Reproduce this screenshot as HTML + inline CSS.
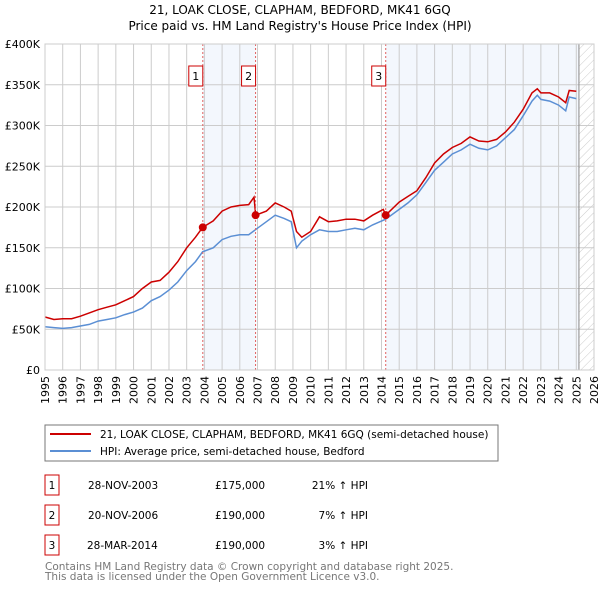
<!DOCTYPE html>
<html><head><meta charset="utf-8">
<style>
body{margin:0;background:#fff;font-family:"DejaVu Sans","Liberation Sans",sans-serif;}
svg text{font-family:"DejaVu Sans","Liberation Sans",sans-serif;}
</style></head>
<body>
<svg width="600" height="590" xmlns="http://www.w3.org/2000/svg">
<defs>
<pattern id="hatch" width="6" height="6" patternUnits="userSpaceOnUse" patternTransform="rotate(45)">
<line x1="0" y1="0" x2="0" y2="6" stroke="#ccc" stroke-width="1"/>
</pattern>
</defs>
<text x="300" y="14" font-size="12" text-anchor="middle">21, LOAK CLOSE, CLAPHAM, BEDFORD, MK41 6GQ</text>
<text x="300" y="30" font-size="12" text-anchor="middle">Price paid vs. HM Land Registry's House Price Index (HPI)</text>
<g id="plot"></g>
<rect x="45" y="425" width="453" height="36" fill="none" stroke="#777"/>
<line x1="50" y1="434" x2="91" y2="434" stroke="#cc0000" stroke-width="2"/>
<text x="100" y="438" font-size="10.5">21, LOAK CLOSE, CLAPHAM, BEDFORD, MK41 6GQ (semi-detached house)</text>
<line x1="50" y1="451" x2="91" y2="451" stroke="#5b8fd4" stroke-width="2"/>
<text x="100" y="455" font-size="10.5">HPI: Average price, semi-detached house, Bedford</text>
<g font-size="10.5">
<rect x="45" y="475" width="14" height="20" fill="none" stroke="#cc0000"/><text x="52" y="489" text-anchor="middle">1</text>
<text x="88" y="489">28-NOV-2003</text><text x="215" y="489">£175,000</text><text x="368" y="489" text-anchor="end">21% ↑ HPI</text>
<rect x="45" y="505" width="14" height="20" fill="none" stroke="#cc0000"/><text x="52" y="519" text-anchor="middle">2</text>
<text x="88" y="519">20-NOV-2006</text><text x="215" y="519">£190,000</text><text x="368" y="519" text-anchor="end">7% ↑ HPI</text>
<rect x="45" y="535" width="14" height="20" fill="none" stroke="#cc0000"/><text x="52" y="549" text-anchor="middle">3</text>
<text x="87" y="549">28-MAR-2014</text><text x="215" y="549">£190,000</text><text x="368" y="549" text-anchor="end">3% ↑ HPI</text>
</g>
<text x="45" y="570" font-size="10.5" fill="#777">Contains HM Land Registry data © Crown copyright and database right 2025.</text>
<text x="45" y="580" font-size="10.5" fill="#777">This data is licensed under the Open Government Licence v3.0.</text>
</svg>
<script>
const hpiYears=[1995,1995.5,1996,1996.5,1997,1997.5,1998,1998.5,1999,1999.5,2000,2000.5,2001,2001.5,2002,2002.5,2003,2003.5,2003.9,2004.5,2005,2005.5,2006,2006.5,2007,2007.5,2008,2008.5,2008.9,2009.2,2009.5,2010,2010.5,2011,2011.5,2012,2012.5,2013,2013.5,2014.24,2015,2015.5,2016,2016.5,2017,2017.5,2018,2018.5,2019,2019.5,2020,2020.5,2021,2021.5,2022,2022.5,2022.8,2023,2023.5,2024,2024.4,2024.6,2025];
const hpiValues=[53,52,51,52,54,56,60,62,64,68,71,76,85,90,98,108,122,133,145,150,160,164,166,166,174,182,190,186,182,150,158,166,172,170,170,172,174,172,178,185,197,205,215,230,245,255,265,270,277,272,270,275,285,295,312,330,337,332,330,325,318,335,333];
const redYears=[1995,1995.5,1996,1996.5,1997,1997.5,1998,1998.5,1999,1999.5,2000,2000.5,2001,2001.5,2002,2002.5,2003,2003.5,2003.9,2004.5,2005,2005.5,2006,2006.5,2006.8,2006.9,2007.5,2008,2008.5,2008.9,2009.2,2009.5,2010,2010.5,2011,2011.5,2012,2012.5,2013,2013.5,2014.1,2014.24,2015,2015.5,2016,2016.5,2017,2017.5,2018,2018.5,2019,2019.5,2020,2020.5,2021,2021.5,2022,2022.5,2022.8,2023,2023.5,2024,2024.4,2024.6,2025];
const redValues=[65,62,63,63,66,70,74,77,80,85,90,100,108,110,120,133,150,163,175,183,195,200,202,203,212,190,195,205,200,195,170,163,170,188,182,183,185,185,183,190,197,190,206,213,220,236,254,265,273,278,286,281,280,283,292,304,320,340,345,340,340,335,328,343,342];
const saleYears=[2003.91,2006.89,2014.24];
const saleValues=[175,190,190];
const saleLabels=["1","2","3"];
const yTicks=[0,50,100,150,200,250,300,350,400];
const yTickLabels=["£0","£50K","£100K","£150K","£200K","£250K","£300K","£350K","£400K"];
const xTicks=[1995,1996,1997,1998,1999,2000,2001,2002,2003,2004,2005,2006,2007,2008,2009,2010,2011,2012,2013,2014,2015,2016,2017,2018,2019,2020,2021,2022,2023,2024,2025,2026];
const dataEnd=2025.15;

const X0=45,X1=594,Y0=370,Y1=44;
const xs=y=>X0+(y-1995)/(2026-1995)*(X1-X0);
const ys=v=>Y0-v/400*(Y0-Y1);
const NS="http://www.w3.org/2000/svg";
const g=document.getElementById('plot');
function mk(t,a){const e=document.createElementNS(NS,t);for(const k in a)e.setAttribute(k,a[k]);g.appendChild(e);return e;}

let e=mk('rect',{x:xs(saleYears[0]),y:Y1,width:xs(saleYears[1])-xs(saleYears[0]),height:Y0-Y1,fill:'#eef3fc',opacity:0.7});


e=mk('rect',{x:xs(saleYears[2]),y:Y1,width:xs(dataEnd)-xs(saleYears[2]),height:Y0-Y1,fill:'#eef3fc',opacity:0.7});


e=mk('rect',{x:xs(dataEnd),y:Y1,width:X1-xs(dataEnd),height:Y0-Y1,fill:'url(#hatch)'});



yTicks.forEach((v,i)=>{
 let l=mk('line',{x1:X0,x2:X1,y1:ys(v),y2:ys(v),stroke:'#ccc'});
 
 
 let t=mk('text',{x:40,y:ys(v)+4,'font-size':11,'text-anchor':'end'});t.textContent=yTickLabels[i];
 
 
});
xTicks.forEach(yr=>{
 let l=mk('line',{x1:xs(yr),x2:xs(yr),y1:Y1,y2:Y0,stroke:'#ccc'});
 
 
 let t=mk('text',{x:0,y:0,'font-size':11,'text-anchor':'end',transform:`translate(${xs(yr)+4},${Y0+6}) rotate(-90)`});t.textContent=yr;
 
 
});
e=mk('line',{x1:xs(dataEnd),x2:xs(dataEnd),y1:Y1,y2:Y0,stroke:'#888'});



function path(yrs,vals){return yrs.map((y,i)=>(i?'L':'M')+xs(y).toFixed(1)+','+ys(vals[i]).toFixed(1)).join('');}
e=mk('path',{d:path(hpiYears,hpiValues),fill:'none',stroke:'#5b8fd4','stroke-width':1.5});


e=mk('path',{d:path(redYears,redValues),fill:'none',stroke:'#cc0000','stroke-width':1.5});



saleYears.forEach((yr,i)=>{
 let l=mk('line',{x1:xs(yr),x2:xs(yr),y1:Y1,y2:Y0,stroke:'#e06060','stroke-dasharray':'2,2'});
 
 
 let c=mk('circle',{cx:xs(yr),cy:ys(saleValues[i]),r:4,fill:'#cc0000'});
 
 
 let r=mk('rect',{x:xs(yr)-14,y:66,width:14,height:20,fill:'#fff',stroke:'#cc0000'});
 
 
 let t=mk('text',{x:xs(yr)-7,y:80,'font-size':11,'text-anchor':'middle'});t.textContent=saleLabels[i];
 
 
});
e=mk('rect',{x:X0,y:Y1,width:X1-X0,height:Y0-Y1,fill:'none',stroke:'#ccc'});


</script>
</body></html>
